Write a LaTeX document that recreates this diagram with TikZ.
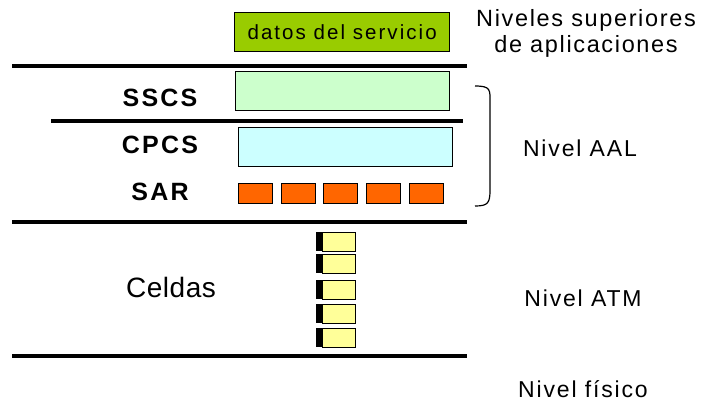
\documentclass[tikz,border=0pt]{standalone}
\usepackage{fontspec}
\setmainfont{Liberation Sans}
\definecolor{datosgreen}{HTML}{99CC00}
\definecolor{sscsgreen}{HTML}{CCFFCC}
\definecolor{cpcscyan}{HTML}{CCFFFF}
\definecolor{sarorange}{HTML}{FF6600}
\definecolor{cellyellow}{HTML}{FFFF99}
\begin{document}
\begin{tikzpicture}[x=1pt,y=-1pt,
    sep/.style={line width=3.5pt},
    layer/.style={draw,line width=1.3pt,minimum width=214pt,minimum height=39pt,inner sep=0pt,anchor=north west},
    seg/.style={draw,fill=sarorange,line width=1.3pt,minimum width=34pt,minimum height=20pt,inner sep=0pt,anchor=north west},
    cell/.style={draw,fill=cellyellow,line width=1pt,minimum width=33pt,minimum height=19pt,inner sep=0pt,anchor=north west},
    tag/.style={font=\fontsize{25}{28}\selectfont\bfseries\addfontfeature{LetterSpace=9}},
    txt/.style={font=\fontsize{23}{26}\selectfont\addfontfeature{LetterSpace=8}}]
    \useasboundingbox (0,0) rectangle (702,401);
    % capas
    \node[layer,fill=datosgreen,minimum width=215pt,font=\fontsize{20.5}{24}\selectfont\addfontfeature{LetterSpace=10}] (datos) at (234,12) {datos del servicio\hspace{10pt}};
    \draw[sep] (12,66)--(467,66);
    \node[layer,fill=sscsgreen] (sscs) at (235,71) {};
    \draw[sep] (51,121)--(463,121);
    \node[layer,fill=cpcscyan] (cpcs) at (238,127) {};
    \foreach \x/\n in {238/1,281/2,323/3,366/4,409/5}
      \node[seg] (sar\n) at (\x,183) {};
    \draw[sep] (12,222)--(467,222);
    \foreach \y/\n in {232/1,254/2,280/3,304/4,328/5}{
      \node[cell] (cel\n) at (322,\y) {};
      \fill (cel\n.north west) rectangle ++(-6,19);
    }
    \draw[sep] (12,356)--(467,356);
    % etiquetas
    \node[tag] (lsscs) at (160,98) {SSCS};
    \node[tag] (lcpcs) at (160,145) {CPCS};
    \node[tag] (lsar) at (160,192) {SAR};
    \node[font=\fontsize{28}{32}\selectfont\addfontfeature{LetterSpace=2}] (celdas) at (171,287) {Celdas};
    \draw[line width=1.2pt] (475,86) .. controls (491,86) and (490,90) .. (490,102) -- (490,190) .. controls (490,203) and (488,206) .. (475,206);
    \node[align=center,font=\fontsize{23.5}{26}\selectfont\addfontfeature{LetterSpace=7}] (sup) at (586,33) {Niveles superiores\\de aplicaciones};
    \node[txt] (aal) at (580,148) {Nivel AAL};
    \node[txt] (atm) at (583,298) {Nivel ATM};
    \node[txt,inner sep=1pt] (fis) at (583,389) {Nivel físico};
\end{tikzpicture}
\end{document}
